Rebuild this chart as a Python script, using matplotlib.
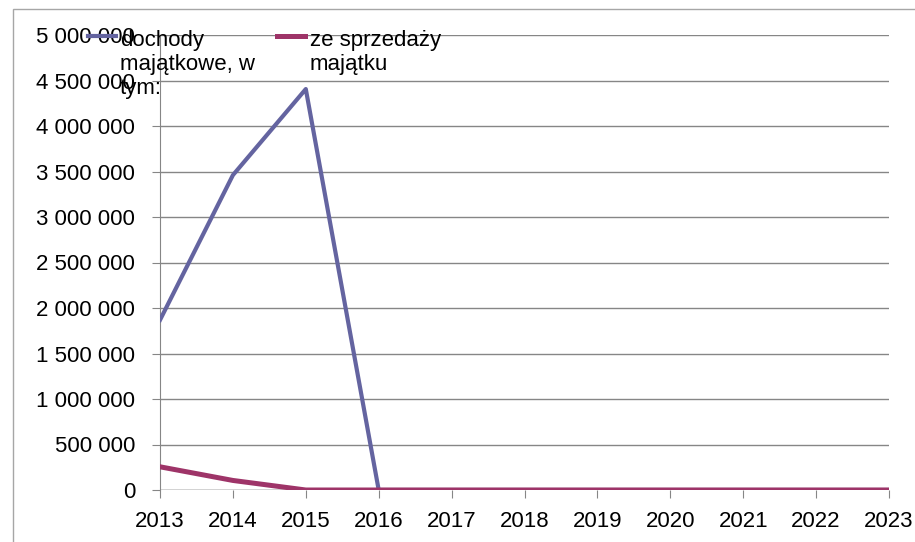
import matplotlib.pyplot as plt
from matplotlib.lines import Line2D
from matplotlib.patches import Rectangle

years = [2013, 2014, 2015, 2016, 2017, 2018, 2019, 2020, 2021, 2022, 2023]
dochody = [1868000, 3460000, 4406000, 0, 0, 0, 0, 0, 0, 0, 0]
sprzedaz = [255000, 105000, 0, 0, 0, 0, 0, 0, 0, 0, 0]
y_ticks = [0, 500000, 1000000, 1500000, 2000000, 2500000,
           3000000, 3500000, 4000000, 4500000, 5000000]

plt.rcParams['font.family'] = ['Liberation Sans', 'DejaVu Sans']

W, H = 915, 542
fig = plt.figure(figsize=(W / 100, H / 100), dpi=100)
ax = fig.add_axes([160 / W, 1 - 490 / H, (889 - 160) / W, (490 - 35) / H])

# outer chart border (runs off the right and bottom edge)
fig.patches.append(Rectangle((13 / W, -0.1), 1.1, 1 - 9 / H + 0.1, transform=fig.transFigure,
                             fill=False, edgecolor='#a6a6a6', lw=1))

blue = '#6464a0'
purple = '#9e3468'
ax.plot(years, dochody, color=blue, lw=3.0, zorder=3)
ax.plot(years, sprzedaz, color=purple, lw=3.6, zorder=4)

ax.set_xlim(2013, 2023)
ax.set_ylim(0, 5000000)
ax.set_yticks(y_ticks)
ax.set_yticklabels(['{:,}'.format(v).replace(',', ' ') for v in y_ticks])
ax.set_xticks(years)
ax.set_xticklabels([str(y) for y in years])
ax.grid(axis='y', color='#868686', lw=1)
for s in ['top', 'right', 'bottom']:
    ax.spines[s].set_visible(False)
ax.spines['left'].set_color('#868686')
ax.tick_params(axis='y', length=6, color='#868686', labelsize=16, pad=12)
ax.tick_params(axis='x', length=6, color='#868686', labelsize=16, pad=9)
ax.axhline(0, color='#868686', lw=1, zorder=2)

# legend drawn by hand (overlaps the plot like in the original)
fig.add_artist(Line2D([88 / W, 116 / W], [1 - 36 / H] * 2, color=blue, lw=3.0))
fig.text(120 / W, 1 - 30 / H, 'dochody\nmajątkowe, w\ntym:', fontsize=16,
         va='top', ha='left', linespacing=1.2)
fig.add_artist(Line2D([277 / W, 305 / W], [1 - 36 / H] * 2, color=purple, lw=3.6))
fig.text(310 / W, 1 - 30 / H, 'ze sprzedaży\nmajątku', fontsize=16,
         va='top', ha='left', linespacing=1.2)

fig.savefig('out.png', dpi=100)
